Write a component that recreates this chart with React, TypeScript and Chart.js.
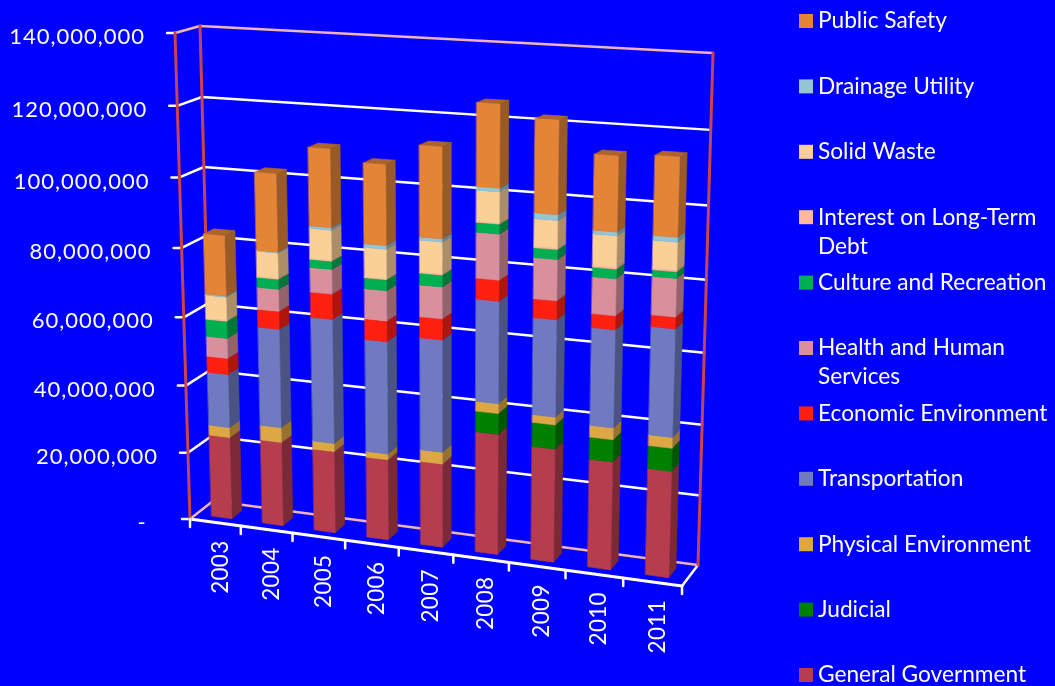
import React, { useEffect, useRef } from "react";
import { Chart, registerables } from "chart.js";

Chart.register(...registerables);

const years = ["2003", "2004", "2005", "2006", "2007", "2008", "2009", "2010", "2011"];

// Spending per function, in millions; stacked from the ground up.
const generalGovernment = [24.5, 24.9, 24.1, 23.6, 24.3, 34.7, 32.4, 30.7, 30.0];
const judicial = [0, 0, 0, 0, 0, 5.9, 6.8, 6.2, 6.4];
const physicalEnvironment = [3.0, 4.4, 2.4, 1.7, 3.4, 2.8, 2.2, 3.3, 3.0];
const transportation = [15.7, 28.7, 35.9, 32.3, 32.0, 28.6, 27.0, 27.0, 29.6];
const economicEnvironment = [4.75, 5.2, 7.2, 5.9, 5.9, 5.8, 5.2, 3.8, 3.2];
const healthAndHumanServices = [5.85, 6.3, 7.0, 8.5, 8.9, 12.6, 11.2, 10.0, 10.3];
const cultureAndRecreation = [5.0, 2.9, 2.3, 3.1, 3.3, 2.7, 2.7, 2.6, 1.8];
const interestOnDebt = [0.2, 0.2, 0.2, 0.2, 0.2, 0.2, 0.3, 0.4, 0.4];
const solidWaste = [6.8, 7.2, 8.5, 8.3, 8.9, 8.5, 7.5, 8.5, 7.4];
const drainageUtility = [0.3, 0.3, 0.7, 1.0, 0.9, 1.0, 1.6, 1.0, 1.3];
const publicSafety = [17.3, 22.0, 21.8, 22.3, 25.0, 22.4, 25.0, 20.1, 21.0];

const MILLION = 1000000;
const AXIS_MAX = 140 * MILLION;
const AXIS_STEP = 20 * MILLION;

const seriesNames = [
  "General Government",
  "Judicial",
  "Physical Environment",
  "Transportation",
  "Economic Environment",
  "Health and Human Services",
  "Culture and Recreation",
  "Interest on Long-Term Debt",
  "Solid Waste",
  "Drainage Utility",
  "Public Safety",
];
const seriesValues = [
  generalGovernment,
  judicial,
  physicalEnvironment,
  transportation,
  economicEnvironment,
  healthAndHumanServices,
  cultureAndRecreation,
  interestOnDebt,
  solidWaste,
  drainageUtility,
  publicSafety,
];
const seriesColors = [
  "#B53D4E",
  "#008000",
  "#DDA844",
  "#6F7AC0",
  "#FF2010",
  "#DA909C",
  "#00AF50",
  "#FFB899",
  "#FBD096",
  "#95C4D2",
  "#E38436",
];

const AXIS_FONT = "22px Lato";
const YEAR_FONT = "22.5px Lato";
const LEGEND_FONT = "22.7px Lato";
const WHITE = "#FFFFFF";
const WALL_RED = "#C8444C";
const PINK = "#F0B4B8";

type Pt = [number, number];
type Quad = [Pt, Pt, Pt, Pt];

// Maps the unit square onto a quadrilateral (bottom-left, bottom-right, top-right, top-left).
function planeMapper(q: Quad) {
  const [[x0, y0], [x1, y1], [x2, y2], [x3, y3]] = q;
  const dx1 = x1 - x2, dx2 = x3 - x2, sx = x0 - x1 + x2 - x3;
  const dy1 = y1 - y2, dy2 = y3 - y2, sy = y0 - y1 + y2 - y3;
  const den = dx1 * dy2 - dx2 * dy1;
  const g = (sx * dy2 - dx2 * sy) / den;
  const h = (dx1 * sy - sx * dy1) / den;
  const a = x1 - x0 + g * x1, b = x3 - x0 + h * x3;
  const d = y1 - y0 + g * y1, e = y3 - y0 + h * y3;
  return (u: number, v: number): Pt => {
    const k = g * u + h * v + 1;
    return [(a * u + b * v + x0) / k, (d * u + e * v + y0) / k];
  };
}

// The plot box in view: near and far vertical planes of the box.
const nearPlane = planeMapper([[190, 519], [682, 586], [696.5, 60], [175, 33]]);
const farPlane = planeMapper([[213, 501], [698, 565], [713, 53], [200, 26]]);

// u runs along the categories, v up the value axis, w from front to back of the box.
function project(u: number, v: number, w: number): Pt {
  const n = nearPlane(u, v);
  const f = farPlane(u, v);
  return [n[0] + (f[0] - n[0]) * w, n[1] + (f[1] - n[1]) * w];
}

const BAR_FRONT = 0.28;
const BAR_BACK = 0.72;

function shade(hex: string, factor: number) {
  const n = parseInt(hex.slice(1), 16);
  const c = [(n >> 16) & 255, (n >> 8) & 255, n & 255].map((x) => Math.round(x * factor));
  return `rgb(${c[0]},${c[1]},${c[2]})`;
}

function line(ctx: CanvasRenderingContext2D, a: Pt, b: Pt, color: string, width = 2.5) {
  ctx.strokeStyle = color;
  ctx.lineWidth = width;
  ctx.beginPath();
  ctx.moveTo(a[0], a[1]);
  ctx.lineTo(b[0], b[1]);
  ctx.stroke();
}

function face(ctx: CanvasRenderingContext2D, pts: Pt[], color: string) {
  ctx.fillStyle = color;
  ctx.strokeStyle = color;
  ctx.lineWidth = 0.6;
  ctx.beginPath();
  pts.forEach((p, i) => (i ? ctx.lineTo(p[0], p[1]) : ctx.moveTo(p[0], p[1])));
  ctx.closePath();
  ctx.fill();
  ctx.stroke();
}

function wrapLabel(ctx: CanvasRenderingContext2D, text: string, maxWidth: number) {
  const lines: string[] = [];
  let current = "";
  for (const word of text.split(" ")) {
    const next = current ? `${current} ${word}` : word;
    if (ctx.measureText(next).width > maxWidth && current) {
      lines.push(current);
      current = word;
    } else {
      current = next;
    }
  }
  lines.push(current);
  return lines;
}

const box3d = {
  id: "box3d",
  beforeDatasetsDraw(chart: any) {
    const ctx: any = chart.ctx;
    const area = chart.chartArea;
    const xs = chart.scales.x;
    const ys = chart.scales.y;
    const toU = (px: number) => (px - area.left) / area.width;
    const toV = (py: number) => (area.bottom - py) / area.height;

    ctx.save();
    ctx.lineCap = "round";

    // Gridlines on the left and back walls, each with its tick mark.
    ctx.font = AXIS_FONT;
    ctx.letterSpacing = "1px";
    ctx.textAlign = "right";
    ctx.textBaseline = "middle";
    for (const tick of ys.ticks) {
      const v = toV(ys.getPixelForValue(tick.value));
      const color = tick.value === AXIS_MAX || tick.value === 0 ? PINK : WHITE;
      const near = project(0, v, 0);
      const far = project(0, v, 1);
      const farRight = project(1, v, 1);
      line(ctx, near, far, color);
      line(ctx, far, farRight, color);
      line(ctx, [near[0] - 8, near[1]], near, WHITE);
      ctx.fillStyle = WHITE;
      ctx.fillText(tick.label, near[0] - 30, near[1] + 4);
    }

    // Floor edges and the wall uprights.
    line(ctx, project(0, 0, 0), project(1, 0, 0), WHITE, 3);
    line(ctx, project(1, 0, 0), project(1, 0, 1), WHITE, 2.5);
    line(ctx, project(0, 0, 0), project(0, 1, 0), WALL_RED, 3);
    line(ctx, project(0, 0, 1), project(0, 1, 1), WALL_RED, 3);
    line(ctx, project(1, 0, 1), project(1, 1, 1), WALL_RED, 3);

    // Category tick marks and rotated year labels below the front edge.
    const step = 1 / years.length;
    for (let k = 0; k <= years.length; k++) {
      const p = project(k * step, 0, 0);
      line(ctx, p, [p[0], p[1] + 8], WHITE);
    }
    ctx.font = YEAR_FONT;
    ctx.letterSpacing = "0.3px";
    xs.ticks.forEach((tick: any, i: number) => {
      const p = project(toU(xs.getPixelForTick(i)), 0, 0);
      ctx.save();
      ctx.translate(p[0] + 5, p[1] + 18);
      ctx.rotate(-Math.PI / 2);
      ctx.textAlign = "right";
      ctx.textBaseline = "middle";
      ctx.fillStyle = WHITE;
      ctx.fillText(tick.label, 0, 0);
      ctx.restore();
    });
    ctx.letterSpacing = "0px";

    // Extruded bars, using the pixel geometry of each stacked bar element.
    for (let c = 0; c < years.length; c++) {
      let lastVisible = -1;
      chart.data.datasets.forEach((ds: any, i: number) => {
        if (ds.data[c] > 0) lastVisible = i;
      });
      chart.data.datasets.forEach((ds: any, i: number) => {
        if (!(ds.data[c] > 0)) return;
        const el = chart.getDatasetMeta(i).data[c];
        const u0 = toU(el.x - el.width / 2);
        const u1 = toU(el.x + el.width / 2);
        const v0 = toV(el.base);
        const v1 = toV(el.y);
        const color = ds.backgroundColor;
        if (i === lastVisible) {
          face(ctx, [project(u0, v1, BAR_FRONT), project(u1, v1, BAR_FRONT), project(u1, v1, BAR_BACK), project(u0, v1, BAR_BACK)], shade(color, 0.76));
        }
        face(ctx, [project(u1, v0, BAR_FRONT), project(u1, v0, BAR_BACK), project(u1, v1, BAR_BACK), project(u1, v1, BAR_FRONT)], shade(color, 0.68));
        face(ctx, [project(u0, v0, BAR_FRONT), project(u1, v0, BAR_FRONT), project(u1, v1, BAR_FRONT), project(u0, v1, BAR_FRONT)], color);
      });
    }

    // Legend column, topmost stack segment first.
    const rowStart = 21;
    const rowGap = 65.4;
    ctx.font = LEGEND_FONT;
    ctx.textAlign = "left";
    ctx.textBaseline = "middle";
    chart.data.datasets
      .slice()
      .reverse()
      .forEach((ds: any, row: number) => {
        const y = rowStart + row * rowGap;
        ctx.fillStyle = ds.backgroundColor;
        ctx.fillRect(799, y - 7, 14, 14);
        ctx.fillStyle = WHITE;
        wrapLabel(ctx, ds.label, 236).forEach((text, n) => {
          ctx.fillText(text, 818, y + n * 29);
        });
      });

    ctx.restore();
    return false; // the flat bars are replaced by the extruded ones above
  },
};

export default function App() {
  const canvasRef = useRef<HTMLCanvasElement | null>(null);

  useEffect(() => {
    const chart = new Chart(canvasRef.current as HTMLCanvasElement, {
      type: "bar",
      data: {
        labels: years,
        datasets: seriesNames.map((label, i) => ({
          label,
          data: seriesValues[i].map((m) => m * MILLION),
          backgroundColor: seriesColors[i],
        })),
      },
      options: {
        responsive: false,
        animation: false,
        events: [],
        layout: { padding: 0 },
        datasets: { bar: { barPercentage: 0.4, categoryPercentage: 1 } },
        plugins: { legend: { display: false }, title: { display: false }, tooltip: { enabled: false } },
        scales: {
          x: { stacked: true, display: false, ticks: { autoSkip: false } },
          y: {
            stacked: true,
            display: false,
            min: 0,
            max: AXIS_MAX,
            ticks: {
              stepSize: AXIS_STEP,
              callback: (value: any) => (value === 0 ? "-  " : Number(value).toLocaleString("en-US")),
            },
          },
        },
      },
      plugins: [box3d],
    } as any);
    return () => chart.destroy();
  }, []);

  return (
    <div style={{ position: "fixed", inset: 0, background: "#0000FF" }}>
      <canvas ref={canvasRef} width={1055} height={686} style={{ display: "block" }} />
    </div>
  );
}
